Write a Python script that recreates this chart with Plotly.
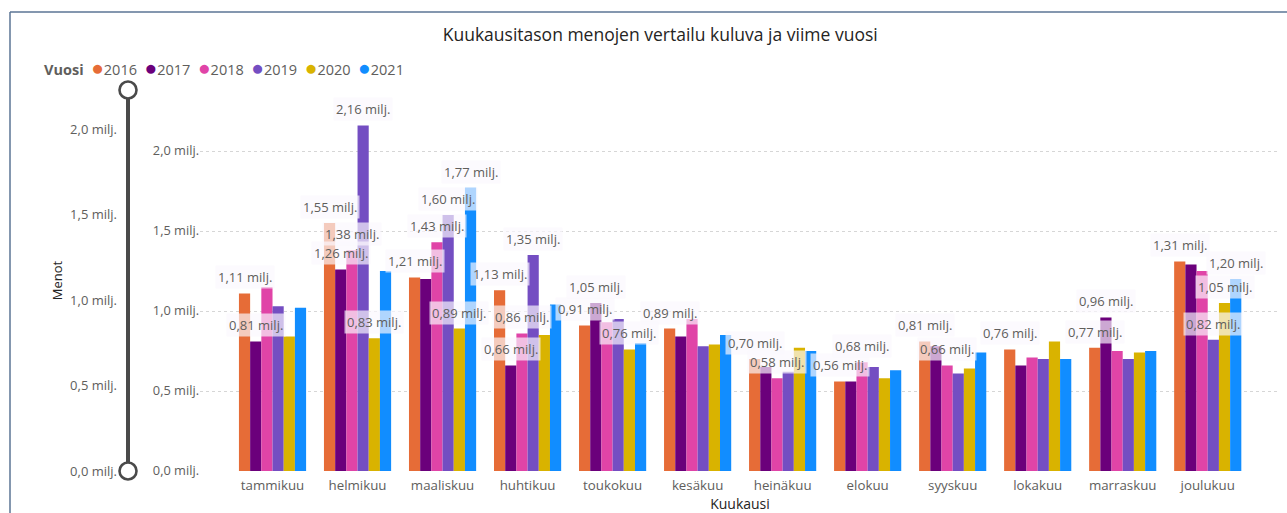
import plotly.graph_objects as go

# ---------------- data ----------------
months = ["tammikuu", "helmikuu", "maaliskuu", "huhtikuu", "toukokuu", "kesäkuu",
          "heinäkuu", "elokuu", "syyskuu", "lokakuu", "marraskuu", "joulukuu"]
years = ["2016", "2017", "2018", "2019", "2020", "2021"]
colors = ["#E66C37", "#6B007B", "#E044A7", "#744EC2", "#D9B300", "#118DFF"]

# monthly expenses, millions
v2016 = [1.11, 1.55, 1.21, 1.13, 0.91, 0.89, 0.70, 0.56, 0.81, 0.76, 0.77, 1.31]
v2017 = [0.81, 1.26, 1.20, 0.66, 1.05, 0.84, 0.65, 0.56, 0.78, 0.66, 0.96, 1.29]
v2018 = [1.15, 1.38, 1.43, 0.86, 0.93, 0.95, 0.58, 0.68, 0.66, 0.71, 0.75, 1.25]
v2019 = [1.03, 2.16, 1.60, 1.35, 0.95, 0.78, 0.62, 0.65, 0.61, 0.70, 0.70, 0.82]
v2020 = [0.84, 0.83, 0.89, 0.85, 0.76, 0.79, 0.77, 0.58, 0.64, 0.81, 0.74, 1.05]
v2021 = [1.02, 1.25, 1.77, 1.04, 0.80, 0.85, 0.75, 0.63, 0.74, 0.70, 0.75, 1.20]

# data labels that are visible in the report (1 = shown)
lab2016 = [1, 1, 1, 1, 1, 1, 1, 1, 1, 1, 1, 1]
lab2017 = [1, 1, 0, 1, 1, 0, 0, 0, 0, 0, 1, 0]
lab2018 = [0, 1, 1, 1, 0, 0, 1, 1, 1, 0, 0, 0]
lab2019 = [0, 1, 1, 1, 0, 0, 0, 0, 0, 0, 0, 1]
lab2020 = [0, 1, 1, 0, 1, 0, 0, 0, 0, 0, 0, 1]
lab2021 = [0, 0, 1, 0, 0, 0, 0, 0, 0, 0, 0, 1]

y_ticks = [0, 0.5, 1.0, 1.5, 2.0]
y_ticktext = ["0,0 milj.", "0,5 milj.", "1,0 milj.", "1,5 milj.", "2,0 milj."]
slider_range = [0, 2.23]

series_values = [v2016, v2017, v2018, v2019, v2020, v2021]
series_labels = [lab2016, lab2017, lab2018, lab2019, lab2020, lab2021]

FONT = "Segoe UI, Open Sans, sans-serif"
GRAY = "#605E5C"
DARK = "#252423"


def fmt(v):
    return f"{v:.2f}".replace(".", ",") + " milj."


# ---------------- layout geometry ----------------
W, H = 1287, 513
ML, MR, MT, MB = 10, 7, 80, 42
PW = W - ML - MR
PH = H - MT - MB
X_RANGE = [-0.853, 11.85]
BARGAP = 0.21
PLOT_LEFT = 200


def px_x(p):
    return (p - ML) / PW


def px_y(p):
    return (H - MB - p) / PH


cat_px = (W - MR - PLOT_LEFT) / (X_RANGE[1] - X_RANGE[0])
bar_px = cat_px * (1 - BARGAP) / len(years)

fig = go.Figure()

annotations = []
for i, (name, col, vals, labs) in enumerate(zip(years, colors, series_values, series_labels)):
    fig.add_trace(go.Bar(
        name=name, x=months, y=vals,
        marker=dict(color=col, line=dict(width=0)),
        showlegend=False,
    ))
    shift = (i - (len(years) - 1) / 2) * bar_px
    for m, v, s in zip(months, vals, labs):
        if s:
            annotations.append(dict(
                x=m, y=v, xref="x", yref="y", text=fmt(v), showarrow=False,
                xshift=shift, yshift=16, xanchor="center", yanchor="middle",
                font=dict(family=FONT, size=13, color=GRAY),
                bgcolor="rgba(250,248,253,0.68)", borderpad=2,
            ))

# Y-axis zoom slider (Power BI style)
fig.add_trace(go.Scatter(
    x=[0, 0], y=slider_range, xaxis="x2", yaxis="y2",
    mode="lines+markers",
    line=dict(color="#4A4A4A", width=4),
    marker=dict(symbol="circle", size=17, color="white",
                line=dict(color="#4A4A4A", width=2.6)),
    showlegend=False, hoverinfo="skip", cliponaxis=False,
))

# legend row built as text: "Vuosi ● 2016 ● 2017 ..."
legend_txt = "<b>Vuosi</b>&nbsp;&nbsp;" + "&nbsp;&nbsp;".join(
    f"<span style='color:{c};font-size:21px'>●</span>{y}" for y, c in zip(years, colors))
annotations.append(dict(text=legend_txt, xref="paper", yref="paper",
                        x=px_x(42), y=px_y(67), xanchor="left", yanchor="middle",
                        showarrow=False,
                        font=dict(family=FONT, size=14.5, color=GRAY)))

fig.update_layout(
    width=W, height=H,
    margin=dict(l=ML, r=MR, t=MT, b=MB),
    paper_bgcolor="white", plot_bgcolor="white",
    barmode="group", bargap=BARGAP, bargroupgap=0,
    font=dict(family=FONT, color=GRAY),
    title=dict(text="Kuukausitason menojen vertailu kuluva ja viime vuosi",
               x=0.513, xref="container", xanchor="center",
               y=1 - 35 / H, yref="container", yanchor="middle",
               font=dict(family=FONT, size=17.5, color=DARK)),
    xaxis=dict(domain=[px_x(PLOT_LEFT), 1], range=X_RANGE,
               showgrid=False, zeroline=False, showline=False, ticks="",
               tickfont=dict(size=13.3, color=GRAY), ticklabelstandoff=5,
               title=dict(text="Kuukausi", standoff=5,
                          font=dict(size=14, color=DARK)),
               automargin=False),
    yaxis=dict(domain=[0, px_y(103)], range=[0, 2.3],
               tickvals=y_ticks, ticktext=y_ticktext,
               tickfont=dict(size=12.8, color=GRAY),
               showgrid=True, gridcolor="#D6D6D6", griddash="dot", gridwidth=1,
               zeroline=False, showline=False, ticks="", automargin=False),
    xaxis2=dict(domain=[px_x(118), px_x(138)], range=[-1, 1], anchor="y2",
                visible=False),
    yaxis2=dict(domain=[0, px_y(90)], range=[0, 2.23], anchor="x2",
                tickvals=y_ticks, ticktext=y_ticktext,
                tickfont=dict(size=13, color=GRAY),
                showgrid=False, zeroline=False, showline=False, ticks="",
                title=dict(text="Menot", standoff=4,
                           font=dict(size=13, color=DARK)),
                automargin=False),
    annotations=annotations,
    shapes=[
        dict(type="line", xref="paper", yref="paper",
             x0=px_x(10), x1=px_x(10), y0=px_y(12), y1=px_y(520),
             line=dict(color="#5B7494", width=1.5)),
        dict(type="line", xref="paper", yref="paper",
             x0=px_x(10), x1=px_x(1290), y0=px_y(12), y1=px_y(12),
             line=dict(color="#5B7494", width=1.5)),
    ],
)

fig.write_html("out.html", config={"displayModeBar": False},
               post_script="document.body.style.margin='0';document.body.style.padding='0';")
